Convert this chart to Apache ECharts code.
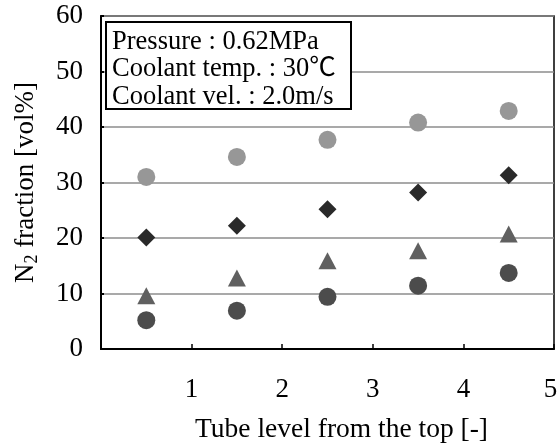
<!DOCTYPE html>
<html>
<head>
<meta charset="utf-8">
<script src="https://cdn.jsdelivr.net/npm/echarts@6/dist/echarts.min.js"></script>
<style>
html,body{margin:0;padding:0;background:#fff;}
#chart{width:558px;height:443px;}
</style>
</head>
<body>
<div id="chart"></div>
<script>
// ---- data ----
const tubeLevels = [0.5, 1.5, 2.5, 3.5, 4.5];
const seriesLightCircle = [31.0, 34.6, 37.7, 40.8, 42.9];
const seriesDiamond = [20.1, 22.2, 25.2, 28.2, 31.3];
const seriesTriangle = [9.6, 12.8, 15.9, 17.7, 20.7];
const seriesDarkCircle = [5.2, 6.9, 9.4, 11.4, 13.7];
const annotationLines = ['Pressure : 0.62MPa', 'Coolant temp. : 30\u2103', 'Coolant vel. : 2.0m/s'];
const xAxisTitle = 'Tube level from the top [-]';
const yAxisTitle = 'N{sub|2} fraction [vol%]';

const FONT = '"Liberation Serif", "Times New Roman", serif';
const BOXFONT = '"Liberation Serif", "Noto Sans CJK JP", serif';
function pairs(ys){ return tubeLevels.map((x,i)=>[x, ys[i]]); }

const chart = echarts.init(document.getElementById('chart'), null, {renderer:'canvas'});
const option = {
  animation: false,
  backgroundColor: '#fff',
  grid: {
    left: 101, right: 4, top: 16, bottom: 94,
    outerBoundsMode: 'none', containLabel: false,
    show: true, borderColor: '#000', borderWidth: 1.5, backgroundColor: 'transparent'
  },
  xAxis: {
    type: 'value', min: 0, max: 5, interval: 1,
    name: xAxisTitle, nameLocation: 'middle', nameGap: 67,
    nameTextStyle: {fontFamily: FONT, fontSize: 27.5, color: '#000', padding: [0,0,0,28]},
    axisLine: {show: true, onZero: false, lineStyle: {color: '#000', width: 2}},
    axisTick: {show: true, inside: true, length: 5, lineStyle: {color: '#000', width: 1.5}},
    axisLabel: {
      showMinLabel: false, fontFamily: FONT, fontSize: 27, color: '#000', margin: 27,
      formatter: v => (v === 5 ? '{last|' + v + '}' : String(v)),
      rich: {last: {fontFamily: FONT, fontSize: 27, color: '#000', padding: [0,7,0,0]}}
    },
    splitLine: {show: false}
  },
  yAxis: {
    type: 'value', min: 0, max: 60, interval: 10,
    name: yAxisTitle, nameLocation: 'middle', nameGap: 60,
    nameTextStyle: {
      fontFamily: FONT, fontSize: 27, color: '#000',
      rich: {sub: {fontFamily: FONT, fontSize: 18, color: '#000', padding: [12,0,0,0]}}
    },
    axisLine: {show: true, lineStyle: {color: '#000', width: 2}},
    axisTick: {show: true, inside: true, length: 3, lineStyle: {color: '#000', width: 2}},
    axisLabel: {fontFamily: FONT, fontSize: 27, color: '#000', margin: 18},
    splitLine: {show: true, lineStyle: {color: '#8c8c8c', width: 1.5}}
  },
  series: [
    {type: 'scatter', data: pairs(seriesLightCircle), symbol: 'circle', symbolSize: 18,
     itemStyle: {color: '#979797', opacity: 1}},
    {type: 'scatter', data: pairs(seriesDiamond), symbol: 'diamond', symbolSize: 18,
     itemStyle: {color: '#2a2a2a', opacity: 1}},
    {type: 'scatter', data: pairs(seriesTriangle), symbol: 'triangle', symbolSize: [18,17],
     itemStyle: {color: '#606060', opacity: 1}},
    {type: 'scatter', data: pairs(seriesDarkCircle), symbol: 'circle', symbolSize: 18,
     itemStyle: {color: '#4c4c4c', opacity: 1}}
  ],
  graphic: [
    {type: 'rect', z: 100, shape: {x: 106, y: 22, width: 245, height: 87},
     style: {fill: '#fff', stroke: '#000', lineWidth: 2}},
    ...annotationLines.map((t,i)=>({
      type: 'text', z: 101, x: 112, y: 42 + i*27.5,
      style: {text: t, fontFamily: BOXFONT, fontSize: 26.5, fill: '#000', verticalAlign: 'middle', align: 'left'}
    }))
  ]
};
chart.setOption(option);
</script>
</body>
</html>
